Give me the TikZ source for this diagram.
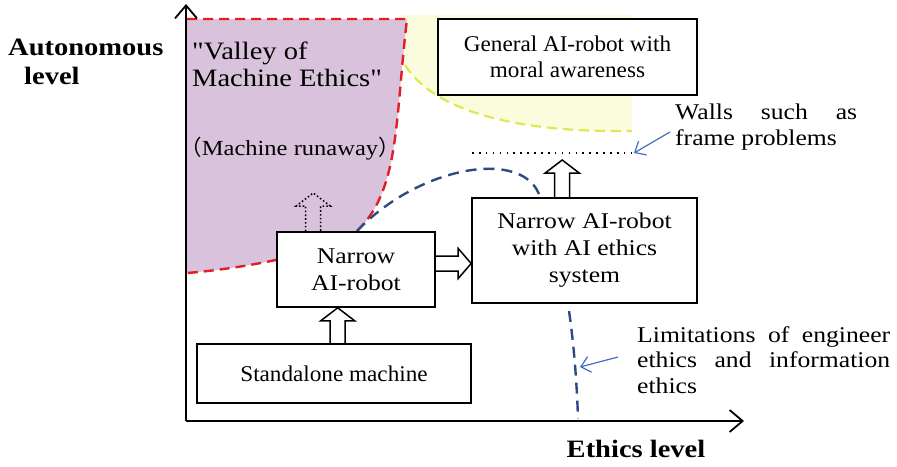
\documentclass[tikz,border=0pt]{standalone}
\usepackage{fontspec}
\setmainfont{Liberation Serif}[FakeStretch=1.14]
\newfontfamily\narrowserif{Liberation Serif}[FakeStretch=1.03]
\newfontfamily\quoteserif{Liberation Serif}[FakeStretch=1.14]
\newfontfamily\cjk{Noto Sans CJK SC}
\usetikzlibrary{arrows.meta,calc}
\hyphenpenalty=10000
\exhyphenpenalty=10000

\definecolor{valleyfill}{RGB}{217,194,219}
\definecolor{valleyline}{RGB}{225,30,35}
\definecolor{generalfill}{RGB}{251,251,221}
\definecolor{generalline}{RGB}{222,232,80}
\definecolor{limitline}{RGB}{45,75,130}
\definecolor{pointer}{RGB}{70,110,190}

\tikzset{
  axisline/.style={line width=1.8pt, -{Straight Barb[length=13pt,width=22pt,line width=1.8pt]}},
  stagebox/.style={draw, line width=1.6pt, fill=white, align=center, inner sep=0pt,
    font=\fontsize{22.5}{27}\selectfont},
  widebox/.style={stagebox, font=\fontsize{22.5}{26}\narrowserif},
  hollow/.style={draw, line width=1.5pt, line join=miter},
  dottedhollow/.style={hollow, dash pattern=on 1.6pt off 2.2pt},
  limitdash/.style={limitline, line width=2.4pt, dash pattern=on 11pt off 7pt},
  pointerarrow/.style={pointer, line width=1.2pt, -{Straight Barb[length=9pt,width=16pt,line width=1.2pt]}},
  note/.style={inner sep=0pt, font=\fontsize{22.5}{25.5}\selectfont, align=justify},
  axislabel/.style={inner sep=0pt, font=\fontsize{25}{29}\bfseries\selectfont, align=left},
}

% hollow block arrows between two points (up / right)
\newcommand\hollowup[3][]{\draw[hollow,#1] let \p1=#2, \p2=#3 in
  (\x1-7.5pt,\y1) -- (\x1-7.5pt,\y2-13pt) -- (\x1-17pt,\y2-13pt) -- (\x1,\y2)
  -- (\x1+17pt,\y2-13pt) -- (\x1+7.5pt,\y2-13pt) -- (\x1+7.5pt,\y1);}
\newcommand\hollowright[3][]{\draw[hollow,#1] let \p1=#2, \p2=#3 in
  (\x1,\y1+7.5pt) -- (\x2-13pt,\y1+7.5pt) -- (\x2-13pt,\y1+15pt) -- (\x2,\y1)
  -- (\x2-13pt,\y1-15pt) -- (\x2-13pt,\y1-7.5pt) -- (\x1,\y1-7.5pt);}

\begin{document}
\begin{tikzpicture}[x=1pt,y=-1pt]
\useasboundingbox (0,0) rectangle (897,466);

% region of the general AI-robot (light yellow, dashed lower edge)
\fill[generalfill] (402,15) -- (632,15) -- (632,131)
  .. controls (500,133) and (430,105) .. (405,65) -- cycle;
\draw[generalline, line width=2.2pt, dash pattern=on 10pt off 6pt]
  (405,65) .. controls (430,105) and (500,133) .. (632,131);

% valley of machine ethics
\fill[valleyfill] (187,19) -- (407,19)
  .. controls (395,120) and (400,190) .. (357,231)
  .. controls (337,250) and (250,268) .. (187,273) -- cycle;
\draw[valleyline, line width=2.4pt, dash pattern=on 10pt off 6pt]
  (187,19) -- (407,19)
  .. controls (395,120) and (400,190) .. (357,231)
  .. controls (337,250) and (250,268) .. (187,273);

% axes
\coordinate (O) at (186,421);
\coordinate (ytip) at (186,4);
\coordinate (xtip) at (744,421);
\draw[axisline] (O) -- (ytip);
\draw[axisline] (O) -- (xtip);

% limitation curves
\coordinate (limA) at (357,231);
\coordinate (limB) at (540,197);
\coordinate (limC) at (569,311);
\coordinate (limD) at (578,419);
\draw[limitdash] (limA) .. controls (420,165) and (525,148) .. (limB);
\draw[limitdash] (limC) .. controls (574,345) and (577,385) .. (limD);

% stages
\node[widebox, minimum width=259pt, minimum height=76pt] (general) at (567.5,57)
  {General AI-robot with\\moral awareness};
\node[stagebox, minimum width=225pt, minimum height=105pt] (ethicsbox) at (584.5,250.5)
  {Narrow AI-robot\\with AI ethics\\system};
\node[stagebox, minimum width=158pt, minimum height=75pt] (narrow) at (356,269.5)
  {Narrow\\AI-robot};
\node[widebox, minimum width=274pt, minimum height=59pt] (stand) at (334,373.5)
  {Standalone machine};

% block arrows between stages
\coordinate (s1) at ($(stand.north west)+(141.5,0)$);
\coordinate (s2) at ($(narrow.south west)+(61.5,0)$);
\hollowup{(s1)}{(s2)}
\coordinate (r1) at ($(narrow.east)+(0,-6)$);
\coordinate (r2) at ($(ethicsbox.west)+(0,12)$);
\hollowright{(r1)}{(r1 -| r2)}
\coordinate (u1) at ($(ethicsbox.north west)+(91,0)$);
\coordinate (u2) at (563,160);
\hollowup{(u1)}{(u2)}
\coordinate (d1) at ($(narrow.north west)+(37,0)$);
\coordinate (d2) at (314,193);
\hollowup[dottedhollow]{(d1)}{(d2)}

% wall line
\coordinate (wallL) at (472,153);
\coordinate (wallR) at (634,153);
\draw[line width=1.6pt, dash pattern=on 1.6pt off 5.3pt] (wallL) -- (wallR);

% texts
\node[axislabel, anchor=north west] (ylabel) at (8,39)
  {Autonomous\\\hspace*{16pt}level};
\node[axislabel, anchor=base] (xlabel) at (636,457) {Ethics level};

\node[inner sep=0pt, anchor=north west, align=left,
  font=\fontsize{25}{27}\quoteserif] (valley) at (192,42)
  {"Valley of\\Machine Ethics"};
\node[inner sep=0pt, anchor=base, font=\fontsize{21.5}{26}\selectfont]
  (runaway) at (290,155) {{\cjk （}Machine runaway{\cjk ）}};

\node[note, text width=182pt, anchor=north west] (walls) at (675,104)
  {Walls such as frame problems};
\node[note, text width=253pt, anchor=north west] (limits) at (637,326)
  {Limitations of engineer ethics and information ethics};

% pointers
\coordinate (p1) at (670,132);
\draw[pointerarrow] (p1) -- (wallR);
\coordinate (p2) at (618,357);
\coordinate (p2t) at (580,367);
\draw[pointerarrow] (p2) -- (p2t);
\end{tikzpicture}
\end{document}
